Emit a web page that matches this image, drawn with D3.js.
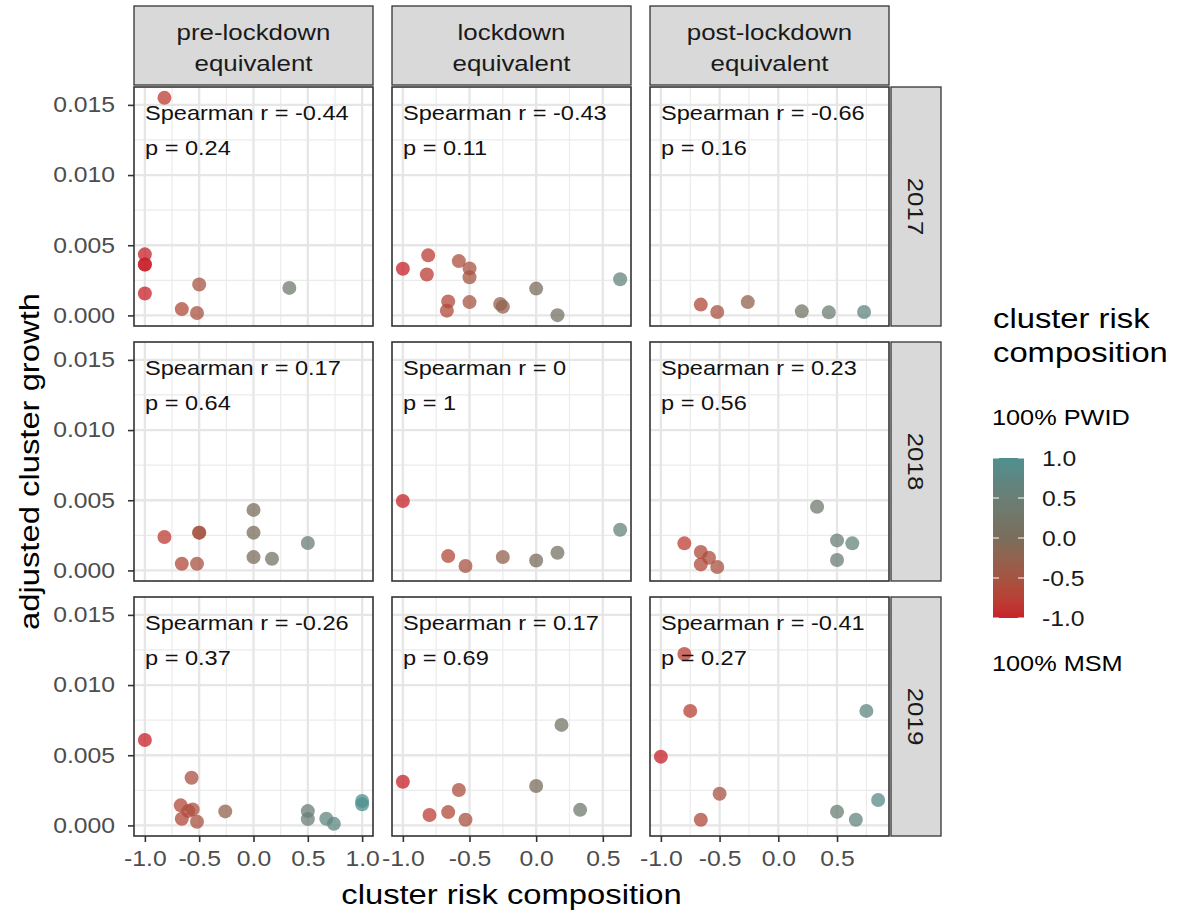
<!DOCTYPE html>
<html>
<head>
<meta charset="utf-8">
<script src="https://cdn.jsdelivr.net/npm/d3@7"></script>
<style>
  body { margin: 0; background: #fff; }
  svg { display: block; font-family: "Liberation Sans", Arial, Helvetica, sans-serif; }
</style>
</head>
<body>
<svg width="1177" height="913"></svg>
<script>
// facet labels
const periods = ["pre-lockdown\nequivalent", "lockdown\nequivalent", "post-lockdown\nequivalent"];
const years = ["2017", "2018", "2019"];

// [cluster risk composition, adjusted cluster growth] for each panel
const pre2017 = [[-0.82, 0.0155], [-1, 0.00435], [-1, 0.00363], [-1, 0.00363], [-1, 0.00156], [-0.5, 0.0022], [-0.66, 0.00045], [-0.52, 0.00017], [0.33, 0.00196]];
const lock2017 = [[-1, 0.00332], [-0.81, 0.00428], [-0.82, 0.00292], [-0.58, 0.00387], [-0.5, 0.00335], [-0.5, 0.00272], [-0.66, 0.001], [-0.67, 0.00034], [-0.5, 0.00095], [-0.27, 0.00081], [-0.25, 0.00062], [0, 0.00191], [0.16, 0.00002], [0.63, 0.00258]];
const post2017 = [[-0.66, 0.00077], [-0.52, 0.00024], [-0.26, 0.00095], [0.2, 0.00029], [0.43, 0.00022], [0.73, 0.00024]];

const pre2018 = [[-0.82, 0.00238], [-0.5, 0.00269], [-0.5, 0.00269], [-0.66, 0.00047], [-0.52, 0.00047], [0, 0.00431], [0, 0.00269], [0, 0.00095], [0.17, 0.00083], [0.5, 0.00195]];
const lock2018 = [[-1, 0.00495], [-0.66, 0.00102], [-0.53, 0.00031], [-0.25, 0.00095], [0, 0.00071], [0.16, 0.00126], [0.63, 0.0029]];
const post2018 = [[-0.8, 0.00193], [-0.66, 0.00131], [-0.59, 0.0009], [-0.66, 0.00043], [-0.52, 0.00024], [0.33, 0.00454], [0.5, 0.00214], [0.63, 0.00193], [0.5, 0.00074]];

const pre2019 = [[-1, 0.00609], [-0.57, 0.0034], [-0.67, 0.00143], [-0.56, 0.00114], [-0.6, 0.00102], [-0.66, 0.00047], [-0.52, 0.00026], [-0.26, 0.001], [0.5, 0.00102], [0.5, 0.00045], [0.67, 0.00047], [0.74, 0.00011], [1, 0.00174], [1, 0.0015]];
const lock2019 = [[-1, 0.00311], [-0.58, 0.00252], [-0.8, 0.00074], [-0.66, 0.00095], [-0.53, 0.0004], [0, 0.00281], [0.19, 0.00716], [0.33, 0.00111]];
const post2019 = [[-0.8, 0.01221], [-0.75, 0.00816], [-1, 0.0049], [-0.5, 0.00226], [-0.66, 0.0004], [0.75, 0.00816], [0.85, 0.00181], [0.5, 0.00097], [0.66, 0.0004]];

// correlation labels, rows = years, cols = periods
const spearmanR = [["-0.44", "-0.43", "-0.66"], ["0.17", "0", "0.23"], ["-0.26", "0.17", "-0.41"]];
const pValues = [["0.24", "0.11", "0.16"], ["0.64", "1", "0.56"], ["0.37", "0.69", "0.27"]];

// breaks
const yTicks = [0, 0.005, 0.010, 0.015];
const yMinor = [0.0025, 0.0075, 0.0125];
const xTicks = [-1, -0.5, 0, 0.5, 1];
const xMinor = [-0.75, -0.25, 0.25, 0.75];
const legendTicks = [-1, -0.5, 0, 0.5, 1];

const panels = [[pre2017, lock2017, post2017], [pre2018, lock2018, post2018], [pre2019, lock2019, post2019]];

// layout
const svg = d3.select("svg");
const stretch = 1.15;  // the source text runs wide
const colLeft = [134, 392, 650], rowTop = [87, 342, 597];
const pw = 239, ph = 239;

const color = d3.scaleLinear()
    .domain([-1, 0, 1])
    .range(["#c8202a", "#7a6e5c", "#4e8f8f"])
    .interpolate(d3.interpolateLab);

// ggplot style 5% expansion
function expand(ext) {
    const pad = (ext[1] - ext[0]) * 0.05;
    return [ext[0] - pad, ext[1] + pad];
}

function label(parent, x, y, txt, size, opts = {}) {
    return parent.append("g")
        .attr("transform", `translate(${x},${y})` + (opts.rotate ? ` rotate(${opts.rotate})` : ""))
        .append("text")
        .attr("transform", `scale(${stretch},1)`)
        .attr("text-anchor", opts.anchor || "start")
        .attr("dy", opts.dy || null)
        .attr("font-size", size)
        .attr("fill", opts.fill || "#000")
        .text(txt);
}

const allPts = panels.flat(2);
const yDomain = expand(d3.extent(allPts, d => d[1]));
const xDomains = periods.map((p, c) => expand(d3.extent(panels.flatMap(row => row[c]), d => d[0])));

years.forEach((yr, r) => {
    const y = d3.scaleLinear().domain(yDomain).range([rowTop[r] + ph, rowTop[r]]);

    periods.forEach((per, c) => {
        const x = d3.scaleLinear().domain(xDomains[c]).range([colLeft[c], colLeft[c] + pw]);
        const inX = v => v >= xDomains[c][0] && v <= xDomains[c][1];
        const g = svg.append("g");

        g.append("rect")
            .attr("x", colLeft[c]).attr("y", rowTop[r])
            .attr("width", pw).attr("height", ph)
            .attr("fill", "#fff");

        // grid
        g.selectAll(".vminor").data(xMinor.filter(inX)).enter().append("line")
            .attr("x1", d => x(d)).attr("x2", d => x(d))
            .attr("y1", rowTop[r]).attr("y2", rowTop[r] + ph)
            .attr("stroke", "#ebebeb").attr("stroke-width", 1.2);
        g.selectAll(".hminor").data(yMinor).enter().append("line")
            .attr("y1", d => y(d)).attr("y2", d => y(d))
            .attr("x1", colLeft[c]).attr("x2", colLeft[c] + pw)
            .attr("stroke", "#ebebeb").attr("stroke-width", 1.2);
        g.selectAll(".vmajor").data(xTicks.filter(inX)).enter().append("line")
            .attr("x1", d => x(d)).attr("x2", d => x(d))
            .attr("y1", rowTop[r]).attr("y2", rowTop[r] + ph)
            .attr("stroke", "#e6e6e6").attr("stroke-width", 2.3);
        g.selectAll(".hmajor").data(yTicks).enter().append("line")
            .attr("y1", d => y(d)).attr("y2", d => y(d))
            .attr("x1", colLeft[c]).attr("x2", colLeft[c] + pw)
            .attr("stroke", "#e6e6e6").attr("stroke-width", 2.3);

        // points
        g.selectAll("circle")
            .data(panels[r][c])
            .enter()
            .append("circle")
            .attr("cx", d => x(d[0]))
            .attr("cy", d => y(d[1]))
            .attr("r", 7)
            .attr("fill", d => color(d[0]))
            .attr("fill-opacity", 0.75);

        // spearman labels
        label(g, colLeft[c] + 11, rowTop[r] + 33, `Spearman r = ${spearmanR[r][c]}`, 20.5, { fill: "#111" });
        label(g, colLeft[c] + 11, rowTop[r] + 68, `p = ${pValues[r][c]}`, 20.5, { fill: "#111" });

        g.append("rect")
            .attr("x", colLeft[c]).attr("y", rowTop[r])
            .attr("width", pw).attr("height", ph)
            .attr("fill", "none").attr("stroke", "#333").attr("stroke-width", 1.6);

        // axes
        if (c === 0) {
            const ax = svg.append("g")
                .attr("transform", `translate(${colLeft[c]},0)`)
                .call(d3.axisLeft(y).tickValues(yTicks).tickFormat(d => d.toFixed(3)).tickSize(6).tickSizeOuter(0));
            ax.select(".domain").remove();
            ax.selectAll("line").attr("stroke", "#333").attr("stroke-width", 1.6);
            ax.selectAll("text")
                .attr("x", -19 / stretch)
                .attr("transform", `scale(${stretch},1)`)
                .attr("font-size", 21.5).attr("font-family", null).attr("fill", "#4d4d4d");
        }
        if (r === 2) {
            const ax = svg.append("g")
                .attr("transform", `translate(0,${rowTop[r] + ph})`)
                .call(d3.axisBottom(x).tickValues(xTicks.filter(inX)).tickFormat(d => d.toFixed(1)).tickSize(6).tickSizeOuter(0).tickPadding(9));
            ax.select(".domain").remove();
            ax.selectAll("line").attr("stroke", "#333").attr("stroke-width", 1.6);
            ax.selectAll("text")
                .attr("transform", `scale(${stretch},1)`)
                .attr("font-size", 21.5).attr("font-family", null).attr("fill", "#4d4d4d");
        }

        // strips
        if (r === 0) {
            svg.append("rect")
                .attr("x", colLeft[c]).attr("y", 6).attr("width", pw).attr("height", 79)
                .attr("fill", "#d9d9d9").attr("stroke", "#333").attr("stroke-width", 1.3);
            per.split("\n").forEach((line, i) => {
                label(svg, colLeft[c] + pw / 2, 40 + i * 31, line, 22.5, { anchor: "middle", fill: "#1a1a1a" });
            });
        }
        if (c === 2) {
            svg.append("rect")
                .attr("x", 891).attr("y", rowTop[r]).attr("width", 50).attr("height", ph)
                .attr("fill", "#d9d9d9").attr("stroke", "#333").attr("stroke-width", 1.3);
            label(svg, 916, rowTop[r] + ph / 2, yr, 22.5, { anchor: "middle", rotate: 90, dy: "0.35em", fill: "#1a1a1a" });
        }
    });
});

// axis titles
label(svg, 511.5, 904, "cluster risk composition", 28.5, { anchor: "middle" });
label(svg, 39, 461.5, "adjusted cluster growth", 28.5, { anchor: "middle", rotate: -90 });

// legend
label(svg, 993, 328, "cluster risk", 28.5);
label(svg, 993, 362, "composition", 28.5);
label(svg, 992, 425, "100% PWID", 22);
label(svg, 992, 671, "100% MSM", 22);

const ly = d3.scaleLinear().domain([-1, 1]).range([618, 458]);
const grad = svg.append("defs").append("linearGradient")
    .attr("id", "barGrad")
    .attr("x1", 0).attr("y1", 1).attr("x2", 0).attr("y2", 0);
grad.selectAll("stop")
    .data(d3.range(0, 1.0001, 0.05))
    .enter()
    .append("stop")
    .attr("offset", d => d)
    .attr("stop-color", d => color(-1 + 2 * d));

svg.append("rect")
    .attr("x", 993).attr("y", ly(1))
    .attr("width", 31).attr("height", ly(-1) - ly(1))
    .attr("fill", "url(#barGrad)");

const lt = svg.append("g");
legendTicks.forEach(v => {
    lt.append("line").attr("x1", 993).attr("x2", 999).attr("y1", ly(v)).attr("y2", ly(v))
        .attr("stroke", "#fff").attr("stroke-width", 1);
    lt.append("line").attr("x1", 1018).attr("x2", 1024).attr("y1", ly(v)).attr("y2", ly(v))
        .attr("stroke", "#fff").attr("stroke-width", 1);
    label(lt, 1042, ly(v), v.toFixed(1), 21.5, { dy: "0.35em", fill: "#1a1a1a" });
});
</script>
</body>
</html>
